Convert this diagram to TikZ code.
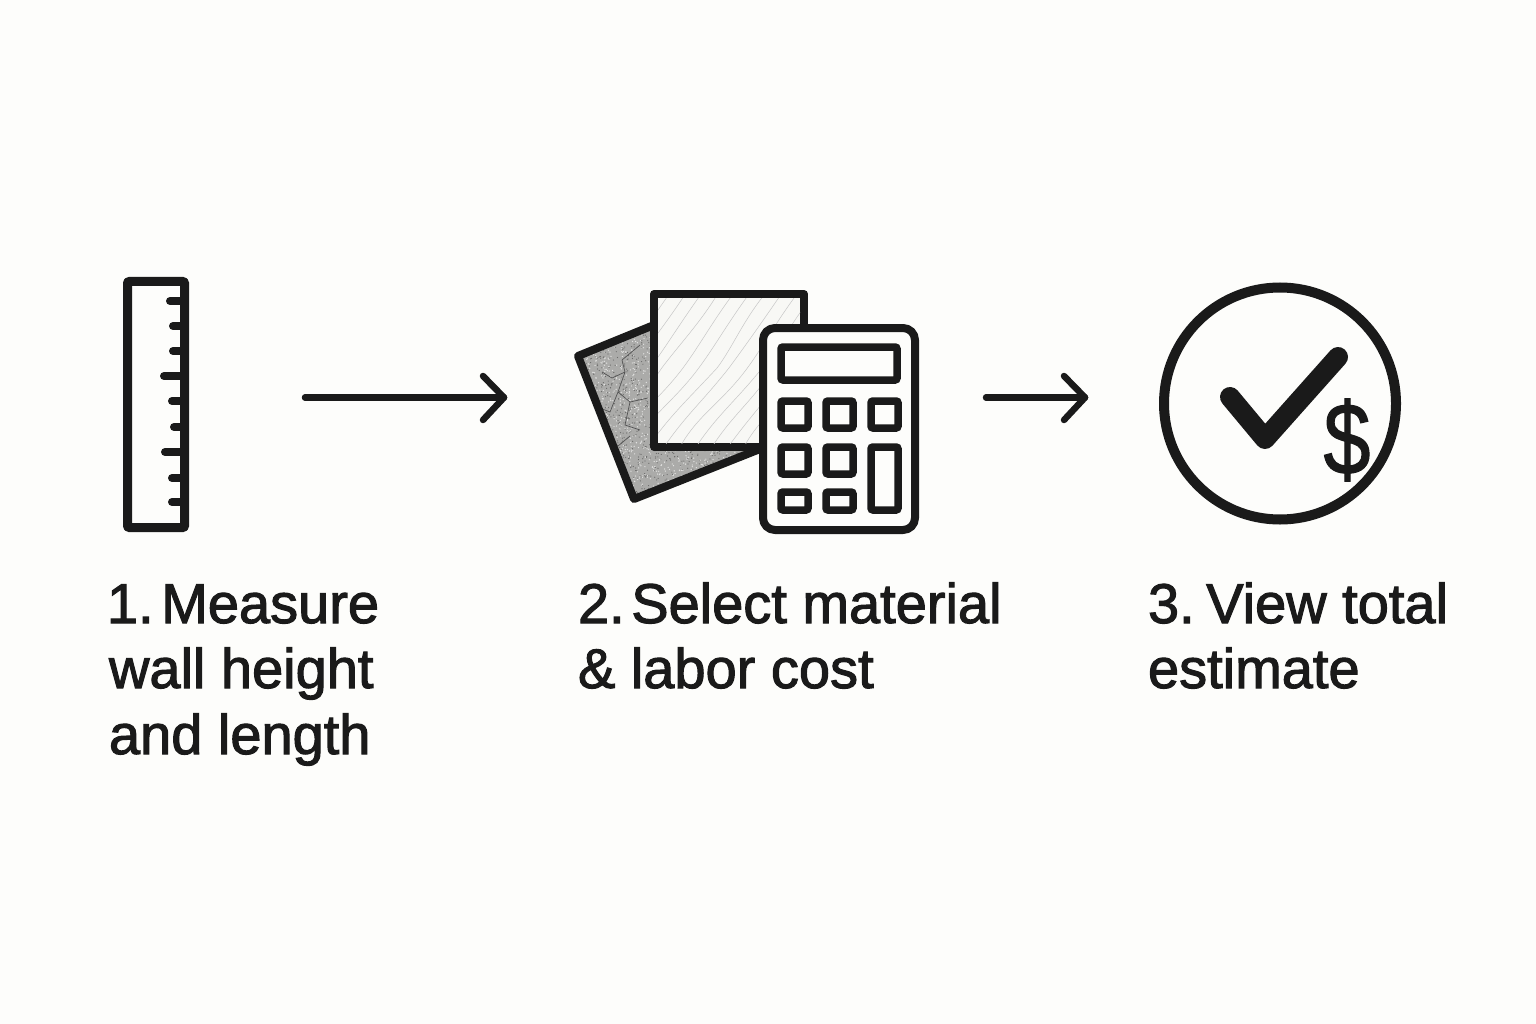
\documentclass[tikz,border=0pt]{standalone}
\usepackage{fontspec}
\setmainfont{Liberation Sans}[FakeBold=1.9]
\newfontfamily\dollarfont{Liberation Sans}[FakeBold=1.2]
\definecolor{paper}{HTML}{FDFDFB}
\definecolor{ink}{HTML}{1A1A1A}
\definecolor{stone}{HTML}{ABABA9}
\definecolor{tile}{HTML}{F8F8F5}
\frenchspacing
\tikzset{
  px/.style={x=1pt,y=-1pt},
  icon/.style={draw=ink,line width=8pt,line join=round},
  rulerbox/.style={draw=ink,line width=9pt,line join=round,rounded corners=1pt},
  tick/.style={draw=ink,line width=8pt,line cap=round},
  btn/.style={draw=ink,line width=7.5pt,rounded corners=2pt},
  flow/.style={draw=ink,line width=6.5pt,line cap=round,line join=round},
  label/.style={anchor=base west,text=ink,font=\fontsize{56}{56}\selectfont,inner sep=0pt,outer sep=0pt}
}
\begin{document}
\begin{tikzpicture}[px]
\useasboundingbox[fill=paper] (0,0) rectangle (1536,1024);
% ruler
\draw[rulerbox,fill=paper] (127.5,281.5) rectangle (184.5,527.5);
\foreach \y/\x in {301/167,326/170,351/170,376/161,401/169,427/171,452/162,478/169,502/169}
  \draw[tick] (\x+3,\y) -- (183,\y);
% tilted sheet
\coordinate (a) at (578,356);
\coordinate (b) at (634,499);
\coordinate (c) at (790,436);
\coordinate (d) at (734,293);
\fill[stone] (a) -- (b) -- (c) -- (d) -- cycle;
\begin{scope}
\clip (a) -- (b) -- (c) -- (d) -- cycle;
\pgfmathsetseed{7}
\foreach \i in {1,...,3200}{
  \pgfmathsetmacro{\px}{575+rnd*190}
  \pgfmathsetmacro{\py}{320+rnd*185}
  \pgfmathsetmacro{\pg}{rnd>0.5?45:-1}
  \ifdim\pg pt<0pt
    \fill[white!65!stone] (\px,\py) circle (0.7pt);
  \else
    \fill[ink!\pg!stone] (\px,\py) circle (0.6pt);
  \fi
}
\draw[ink!75,line width=.7pt] (602,372) -- (612,378) -- (625,372) -- (622,360) (625,372) -- (618,392) -- (630,402) -- (648,398) (640,345) -- (622,360) (592,405) -- (610,412) -- (618,392) (630,402) -- (625,425) -- (640,430) (600,440) -- (618,446) -- (630,436);
\end{scope}
\draw[icon] (654,325) -- (a) -- (b) -- (760,449);
% front sheet
\draw[icon,fill=tile] (654,294) rectangle (804,447);
\begin{scope}
\clip (658,298) rectangle (800,443);
\pgfmathsetseed{11}
\foreach \o in {-120,-104,...,200}{
  \pgfmathsetmacro{\ja}{rnd*8-4}
  \pgfmathsetmacro{\jb}{rnd*10-5}
  \draw[gray!45,line width=.5pt] (640+\o,447) .. controls (660+\o+\ja,415) and (680+\o-\ja,402) .. (705+\o+\jb,368) .. controls (722+\o+\jb,345) and (738+\o-\jb,322) .. (760+\o,290);
}
\end{scope}
% calculator
\draw[icon,fill=paper,rounded corners=12pt] (763,328) rectangle (915,530);
\draw[btn] (781,347) rectangle (897,380);
\draw[btn] (781,401) rectangle (808,428);
\draw[btn] (826,401) rectangle (853,428);
\draw[btn] (871,401) rectangle (898,428);
\draw[btn] (781,447) rectangle (808,474);
\draw[btn] (826,447) rectangle (853,474);
\draw[btn] (871,447) rectangle (898,510);
\draw[btn] (781,492) rectangle (808,510);
\draw[btn] (826,492) rectangle (853,510);
% result badge
\draw[draw=ink,line width=10pt] (1280,403.5) circle (116pt);
\draw[draw=ink,line width=20pt,line cap=round,line join=round] (1230,397) -- (1265,439) -- (1338,357);
\node[text=ink,font=\dollarfont\fontsize{96}{96}\selectfont,inner sep=0pt,xscale=.88,yscale=1.06,transform shape] (dollar) at (1347,440) {\$};
% connectors
\coordinate (a1s) at (305,397.5); \coordinate (a1e) at (504,397.5);
\coordinate (a2s) at (986,397.5); \coordinate (a2e) at (1085,397.5);
\draw[flow] (a1s) -- (a1e);
\draw[flow] (483,376) -- (a1e) -- (483,420);
\draw[flow] (a2s) -- (a2e);
\draw[flow] (1064,376) -- (a2e) -- (1064,420);
% labels
\node[label] (l1a) at (107,623) {1.\hspace{-8pt} Measure};
\node[label] (l1b) at (109,688) {wall height};
\node[label] (l1c) at (109,754) {and length};
\node[label] (l2a) at (578,623) {2.\hspace{-9pt} Select material};
\node[label] (l2b) at (578,688) {\& labor cost};
\node[label] (l3a) at (1148,623) {3.\hspace{-4pt} View total};
\node[label] (l3b) at (1148,688) {estimate};
\end{tikzpicture}
\end{document}
